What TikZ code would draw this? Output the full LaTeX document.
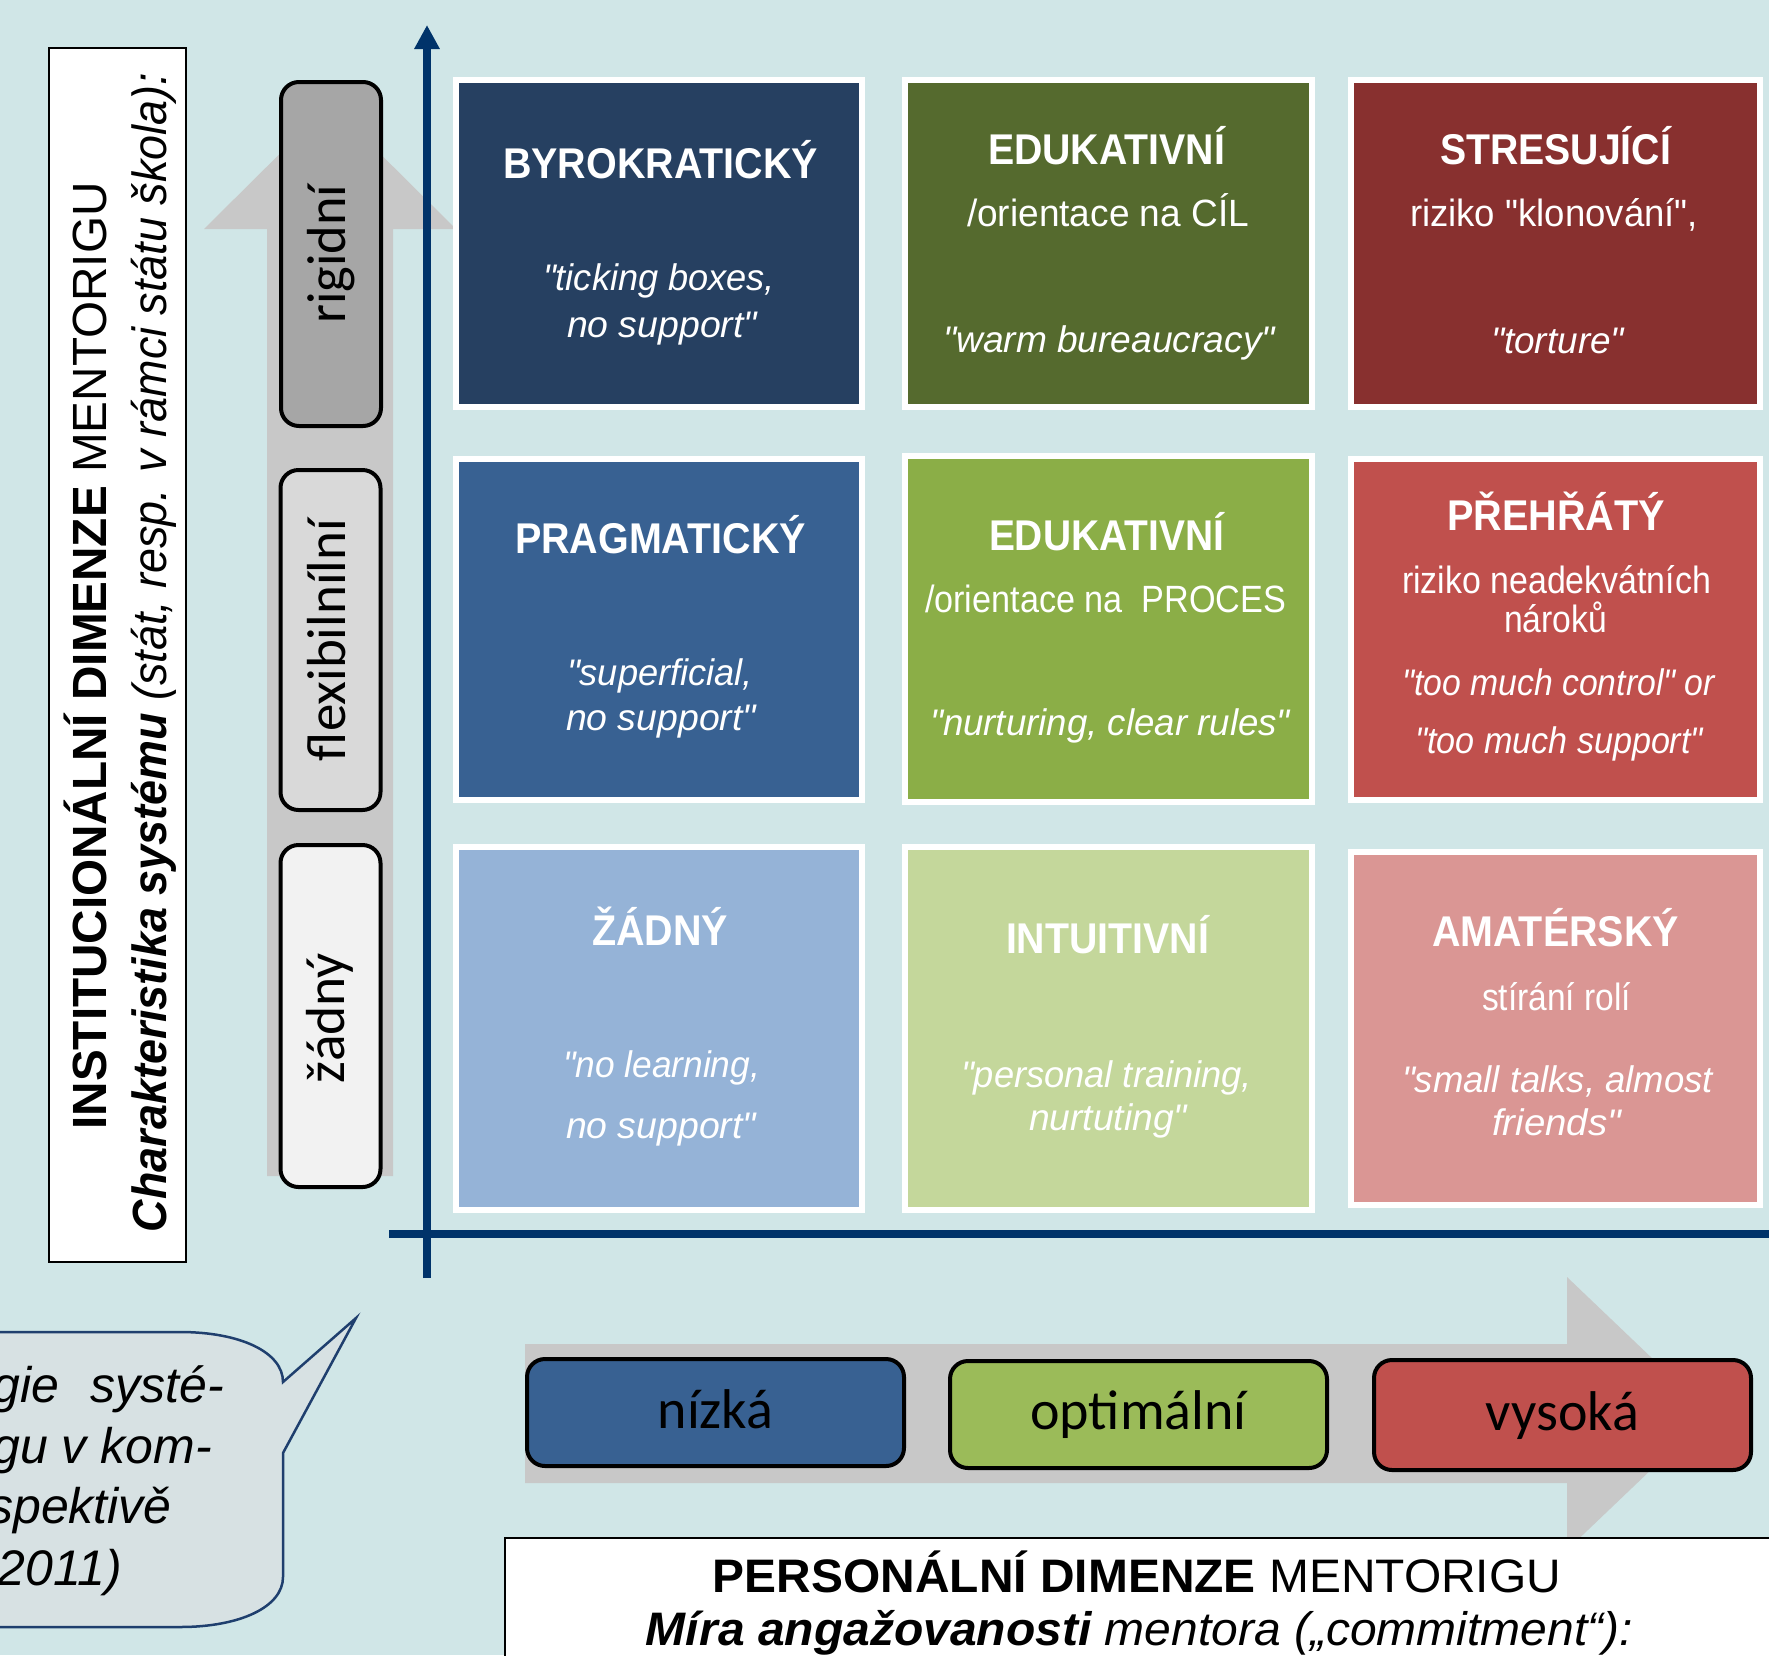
\documentclass[tikz,border=0pt]{standalone}
\usepackage{fontspec}
\setmainfont{Liberation Sans}[Ligatures=TeXOff]
\newfontfamily\calfont{Carlito}
\usetikzlibrary{arrows.meta}
\definecolor{bgc}{HTML}{D0E6E7}
\definecolor{axisblue}{HTML}{00336A}
\definecolor{arrowgrey}{HTML}{C8C8C8}
\definecolor{bubfill}{HTML}{D7E1E3}
\definecolor{bubline}{HTML}{1F3F6E}
\definecolor{cAa}{HTML}{264061}
\definecolor{cAb}{HTML}{556A2E}
\definecolor{cAc}{HTML}{88302F}
\definecolor{cBa}{HTML}{386192}
\definecolor{cBb}{HTML}{8BAE47}
\definecolor{cBc}{HTML}{C0504D}
\definecolor{cCa}{HTML}{95B3D7}
\definecolor{cCb}{HTML}{C4D79B}
\definecolor{cCc}{HTML}{DA9694}
\definecolor{optg}{HTML}{9BBB59}
\newcommand\fw[2]{\resizebox{#1pt}{\height}{#2}}
\newcommand\ct[6]{\node[#1] (#2) at (#3,#4) {\fw{#5}{#6}};}
\begin{document}
\begin{tikzpicture}[x=1pt,y=-1pt,
  cell/.style={draw=white,line width=6pt,inner sep=0pt,outer sep=0pt},
  txt/.style={inner sep=0pt,outer sep=0pt,anchor=base,text=white},
  ttl/.style={txt,font=\fontsize{43}{43}\selectfont\bfseries},
  sub/.style={txt,font=\fontsize{38}{38}\selectfont},
  quo/.style={txt,font=\fontsize{37}{37}\selectfont\itshape},
  lvl/.style={draw=black,line width=4pt,rounded corners=18pt,inner sep=0pt,minimum width=100pt},
  vlab/.style={inner sep=0pt,rotate=90,anchor=base,font=\calfont\fontsize{55}{55}\selectfont,text=black},
  cbox/.style={draw=black,line width=4pt,rounded corners=18pt,inner sep=0pt,minimum width=377pt},
  clab/.style={inner sep=0pt,anchor=base,font=\calfont\fontsize{56}{56}\selectfont,text=black},
  axis/.style={draw=axisblue,line width=8pt},
  garrow/.style={fill=arrowgrey,draw=none},
  wbox/.style={draw=black,line width=2pt,fill=white,inner sep=0pt},
  btxt/.style={inner sep=0pt,anchor=base,text=black},
]
\useasboundingbox (0,0) rectangle (1769,1655);
\fill[bgc] (0,0) rectangle (1769,1655);
\clip (0,0) rectangle (1769,1655);

% grey upward arrow
\fill[garrow] (267,1176) -- (267,229) -- (204,229) -- (330,104) -- (456,229) -- (393,229) -- (393,1176) -- cycle;

% level boxes (vertical)
\node[lvl,fill={rgb,255:red,166;green,166;blue,166},minimum height=344pt] (rig) at (331,254) {};
\node[lvl,fill={rgb,255:red,217;green,217;blue,217},minimum height=340pt] (flx) at (330.5,640) {};
\node[lvl,fill={rgb,255:red,242;green,242;blue,242},minimum height=342pt] (zad) at (330.5,1016) {};
\ct{vlab}{rigt}{345}{254}{139}{rigidní}
\ct{vlab}{flxt}{345}{640}{242}{flexibilnílní}
\ct{vlab}{zadt}{344}{1018}{130}{žádný}

% axes
\coordinate (vb) at (427,1278);
\coordinate (vt) at (427,25);
\coordinate (hl) at (389,1234);
\coordinate (hr) at (1780,1234);
\draw[axis,-{Triangle[width=24pt,length=24pt]}] (vb) -- (vt);
\draw[axis] (hl) -- (hr);

% cells
\node[cell,fill=cAa,minimum width=406pt,minimum height=327pt] (A1) at (659,243.5) {};
\node[cell,fill=cAb,minimum width=407pt,minimum height=327pt] (A2) at (1108.5,243.5) {};
\node[cell,fill=cAc,minimum width=409pt,minimum height=327pt] (A3) at (1555.5,243.5) {};
\node[cell,fill=cBa,minimum width=406pt,minimum height=341pt] (B1) at (659,629.5) {};
\node[cell,fill=cBb,minimum width=407pt,minimum height=346pt] (B2) at (1108.5,629) {};
\node[cell,fill=cBc,minimum width=409pt,minimum height=341pt] (B3) at (1555.5,629.5) {};
\node[cell,fill=cCa,minimum width=406pt,minimum height=363pt] (C1) at (659,1028.5) {};
\node[cell,fill=cCb,minimum width=407pt,minimum height=363pt] (C2) at (1108.5,1028.5) {};
\node[cell,fill=cCc,minimum width=409pt,minimum height=353pt] (C3) at (1555.5,1028.5) {};

% cell texts
\ct{ttl}{A1a}{660.5}{178}{315}{BYROKRATICKÝ}
\ct{quo}{A1b}{659}{290}{232}{"ticking boxes,}
\ct{quo}{A1c}{662}{337}{190}{no support"}
\ct{ttl}{A2a}{1106.5}{164}{237}{EDUKATIVNÍ}
\ct{sub}{A2b}{1108}{226}{282}{/orientace na CÍL}
\ct{quo}{A2c}{1109}{352}{332}{"warm bureaucracy"}
\ct{ttl}{A3a}{1555.5}{164}{231}{STRESUJÍCÍ}
\ct{sub}{A3b}{1554}{226}{288}{riziko "klonování",}
\ct{quo}{A3c}{1557.5}{353}{133}{"torture"}

\ct{ttl}{B1a}{660.5}{553}{291}{PRAGMATICKÝ}
\ct{quo}{B1b}{660}{685}{186}{"superficial,}
\ct{quo}{B1c}{661}{730}{190}{no support"}
\ct{ttl}{B2a}{1106.5}{550}{235}{EDUKATIVNÍ}
\ct{sub}{B2b}{1105.5}{612}{361}{/orientace na\ \ PROCES}
\ct{quo}{B2c}{1110}{735}{360}{"nurturing, clear rules"}
\ct{ttl}{B3a}{1556}{530}{218}{PŘEHŘÁTÝ}
\ct{sub}{B3b}{1556.5}{593}{309}{riziko neadekvátních}
\ct{sub}{B3c}{1555.5}{632}{103}{nároků}
\ct{quo}{B3d}{1558.5}{695}{313}{"too much control" or}
\ct{quo}{B3e}{1559}{753}{288}{"too much support"}

\ct{ttl}{C1a}{660}{945}{136}{ŽÁDNÝ}
\ct{quo}{C1b}{661.5}{1077}{197}{"no learning,}
\ct{quo}{C1c}{661}{1138}{190}{no support"}
\ct{ttl}{C2a}{1107.5}{953}{203}{INTUITIVNÍ}
\ct{quo}{C2b}{1106.5}{1087}{291}{"personal training,}
\ct{quo}{C2c}{1108}{1130}{158}{nurtuting"}
\ct{ttl}{C3a}{1555.5}{946}{247}{AMATÉRSKÝ}
\ct{sub}{C3b}{1556.5}{1010}{149}{stírání rolí}
\ct{quo}{C3c}{1557.5}{1092}{311}{"small talks, almost}
\ct{quo}{C3d}{1556.5}{1135}{129}{friends"}

% left label box
\node[wbox,minimum width=137pt,minimum height=1214pt] (lbox) at (117.5,655) {};
\node[btxt,rotate=90,font=\fontsize{48}{48}\selectfont] (lb1) at (106,656) {\fw{947}{\textbf{INSTITUCIONÁLNÍ DIMENZE} MENTORIGU}};
\node[btxt,rotate=90,font=\fontsize{48}{48}\selectfont] (lb2) at (166,652.5) {\fw{1159}{{\bfseries\itshape Charakteristika systému} {\itshape (stát, resp. v rámci státu škola):}}};

% speech bubble
\filldraw[fill=bubfill,draw=bubline,line width=2.5pt]
  (-20,1332) -- (180,1332) .. controls (240,1332) and (283,1352) .. (283,1382)
  -- (356,1318) -- (283,1453) -- (283,1577)
  .. controls (283,1607) and (240,1627) .. (180,1627) -- (-20,1627);
\node[btxt,anchor=base east,font=\fontsize{50}{50}\selectfont\itshape] (bu1) at (224,1402) {gie\hspace{31pt}systé-};
\node[btxt,anchor=base east,font=\fontsize{50}{50}\selectfont\itshape] (bu2) at (212,1463) {gu v kom-};
\node[btxt,anchor=base east,font=\fontsize{50}{50}\selectfont\itshape] (bu3) at (172,1523) {spektivě};
\node[btxt,anchor=base east,font=\fontsize{50}{50}\selectfont\itshape] (bu4) at (122,1585) {2011)};

% horizontal grey arrow
\fill[garrow] (525,1344) -- (1567,1344) -- (1567,1277) -- (1710,1413.5) -- (1567,1550) -- (1567,1483) -- (525,1483) -- cycle;
\node[cbox,fill=cBa,minimum height=107pt] (lo) at (715.5,1412.5) {};
\node[cbox,fill=optg,minimum height=107pt] (op) at (1138.5,1414.5) {};
\node[cbox,fill=cBc,minimum height=110pt] (hi) at (1562.5,1415) {};
\node[clab] (lot) at (715.5,1428) {nízká};
\node[clab] (opt) at (1138.5,1429) {optimální};
\node[clab] (hit) at (1562.5,1430) {vysoká};

% bottom label box
\node[wbox,anchor=north west,minimum width=1400pt,minimum height=300pt] (pbox) at (504,1537) {};
\node[btxt,font=\fontsize{47}{47}\selectfont] (pb1) at (1137,1592) {\fw{848}{\textbf{PERSONÁLNÍ DIMENZE} MENTORIGU}};
\node[btxt,font=\fontsize{47}{47}\selectfont] (pb2) at (1139.5,1645) {\fw{987}{{\bfseries\itshape Míra angažovanosti} {\itshape mentora („commitment“):}}};
\end{tikzpicture}
\end{document}
